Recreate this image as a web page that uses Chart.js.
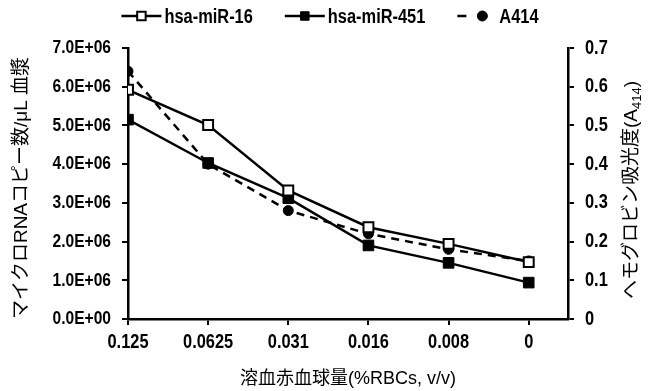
<!DOCTYPE html>
<html>
<head>
<meta charset="utf-8">
<script src="https://cdn.jsdelivr.net/npm/chart.js@4/dist/chart.umd.min.js"></script>
<style>
html,body{margin:0;padding:0;background:#fff;}
#wrap{width:651px;height:391px;position:relative;}
</style>
</head>
<body>
<div id="wrap"><canvas id="c" width="651" height="391"></canvas></div>
<script>
const categories = ["0.125", "0.0625", "0.031", "0.016", "0.008", "0"];
const mir16 = [5.92e6, 5.01e6, 3.32e6, 2.37e6, 1.94e6, 1.47e6];
const mir451 = [5.15e6, 4.03e6, 3.12e6, 1.90e6, 1.45e6, 0.94e6];
const a414 = [0.64, 0.40, 0.28, 0.22, 0.18, 0.15];
const leftTicks = [0, 1e6, 2e6, 3e6, 4e6, 5e6, 6e6, 7e6];
const leftTickLabels = ["0.0E+00", "1.0E+06", "2.0E+06", "3.0E+06", "4.0E+06", "5.0E+06", "6.0E+06", "7.0E+06"];
const rightTicks = [0, 0.1, 0.2, 0.3, 0.4, 0.5, 0.6, 0.7];
const rightTickLabels = ["0", "0.1", "0.2", "0.3", "0.4", "0.5", "0.6", "0.7"];
const seriesNames = ["hsa-miR-16", "hsa-miR-451", "A414"];
const xTitle = "溶血赤血球量(%RBCs, v/v)";
const yTitle = "マイクロRNAコピー数/μL 血漿";
const y2TitleMain = "ヘモグロビン吸光度(A";
const y2TitleSub = "414";
const y2TitleEnd = ")";

const FONT = "'Liberation Sans', Arial, sans-serif";
const TFONT = "'Liberation Sans', Arial, 'Noto Sans CJK JP', sans-serif";
const SQUEEZE = 0.82;

const toXY = arr => arr.map((v, i) => ({x: i, y: v}));

const datasets = [
  {label: seriesNames[0], data: toXY(mir16), yAxisID: 'y', borderColor: '#000', borderWidth: 2.5,
   pointStyle: 'rect', pointRadius: 7, pointBackgroundColor: '#fff', pointBorderColor: '#000', pointBorderWidth: 2},
  {label: seriesNames[1], data: toXY(mir451), yAxisID: 'y', borderColor: '#000', borderWidth: 2.5,
   pointStyle: 'rect', pointRadius: 7.5, pointBackgroundColor: '#000', pointBorderColor: '#000', pointBorderWidth: 1},
  {label: seriesNames[2], data: toXY(a414), yAxisID: 'y2', borderColor: '#000', borderWidth: 2.5, borderDash: [8, 6],
   pointStyle: 'circle', pointRadius: 5, pointBackgroundColor: '#000', pointBorderColor: '#000', pointBorderWidth: 1}
];

function drawMarker(ctx, ds, x, y) {
  ctx.save();
  ctx.setLineDash([]);
  ctx.fillStyle = ds.pointBackgroundColor;
  ctx.strokeStyle = ds.pointBorderColor;
  ctx.lineWidth = ds.pointBorderWidth;
  const r = ds.pointRadius;
  if (ds.pointStyle === 'rect') {
    const s = r * Math.SQRT1_2;
    ctx.beginPath(); ctx.rect(x - s, y - s, 2 * s, 2 * s); ctx.fill(); ctx.stroke();
  } else {
    ctx.beginPath(); ctx.arc(x, y, r, 0, Math.PI * 2); ctx.fill(); ctx.stroke();
  }
  ctx.restore();
}

// condensed text helper (reference uses a narrow bold face)
function narrowText(ctx, text, x, y, align, size) {
  ctx.save();
  ctx.font = "bold " + size + "px " + FONT;
  ctx.fillStyle = '#000';
  ctx.textBaseline = 'middle';
  ctx.textAlign = align;
  ctx.translate(x, y);
  ctx.scale(SQUEEZE, 1);
  ctx.fillText(text, 0, 0);
  ctx.restore();
}
function narrowWidth(ctx, text, size) {
  ctx.save();
  ctx.font = "bold " + size + "px " + FONT;
  const w = ctx.measureText(text).width * SQUEEZE;
  ctx.restore();
  return w;
}

const decor = {
  id: 'decor',
  afterDraw(chart) {
    const ctx = chart.ctx;
    const ca = chart.chartArea;
    const sx = chart.scales.x, sy = chart.scales.y, sy2 = chart.scales.y2;

    // tick labels, positioned by the library's scales
    categories.forEach((c, i) => narrowText(ctx, c, sx.getPixelForValue(i), ca.bottom + 23, 'center', 20));
    leftTicks.forEach((v, i) => narrowText(ctx, leftTickLabels[i], ca.left - 17, sy.getPixelForValue(v), 'right', 19));
    rightTicks.forEach((v, i) => narrowText(ctx, rightTickLabels[i], ca.right + 17, sy2.getPixelForValue(v), 'left', 20));

    // legend
    const LS = 20;
    const sampleW = [40, 40, 30];
    const gapAfterSample = [3, 3, 12];
    const itemGap = 32;
    let total = 0;
    const widths = datasets.map((ds, i) => {
      const w = sampleW[i] + gapAfterSample[i] + narrowWidth(ctx, ds.label, LS);
      total += w;
      return w;
    });
    total += itemGap * (datasets.length - 1);
    let x = 330 - total / 2;
    const ly = 16;
    datasets.forEach((ds, i) => {
      ctx.save();
      ctx.strokeStyle = '#000';
      ctx.lineWidth = 2.5;
      if (ds.borderDash) {
        ctx.beginPath(); ctx.moveTo(x, ly); ctx.lineTo(x + 9, ly); ctx.stroke();
        drawMarker(ctx, ds, x + 25, ly);
      } else {
        ctx.beginPath(); ctx.moveTo(x, ly); ctx.lineTo(x + sampleW[i], ly); ctx.stroke();
        drawMarker(ctx, Object.assign({}, ds, {pointRadius: 6}), x + sampleW[i] / 2, ly);
      }
      ctx.restore();
      narrowText(ctx, ds.label, x + sampleW[i] + gapAfterSample[i], ly + 1, 'left', LS);
      x += widths[i] + itemGap;
    });

    // x title
    ctx.save();
    ctx.font = "18px " + TFONT;
    ctx.fillStyle = '#000';
    ctx.textAlign = 'center';
    ctx.textBaseline = 'middle';
    ctx.fillText(xTitle, (ca.left + ca.right) / 2, 379);
    ctx.restore();

    // left y title
    ctx.save();
    ctx.font = "19px " + TFONT;
    ctx.fillStyle = '#000';
    ctx.translate(22, 188);
    ctx.rotate(-Math.PI / 2);
    ctx.textAlign = 'center';
    ctx.textBaseline = 'middle';
    ctx.fillText(yTitle, 0, 0);
    ctx.restore();

    // right y title with subscript
    ctx.save();
    ctx.fillStyle = '#000';
    ctx.translate(632, 190);
    ctx.rotate(-Math.PI / 2);
    ctx.textBaseline = 'middle';
    ctx.font = "19px " + TFONT;
    const w1 = ctx.measureText(y2TitleMain).width;
    const w3 = ctx.measureText(y2TitleEnd).width;
    ctx.font = "13px " + TFONT;
    const w2 = ctx.measureText(y2TitleSub).width;
    let tx = -(w1 + w2 + w3) / 2;
    ctx.font = "19px " + TFONT;
    ctx.textAlign = 'left';
    ctx.fillText(y2TitleMain, tx, 0);
    tx += w1;
    ctx.font = "13px " + TFONT;
    ctx.fillText(y2TitleSub, tx, 5);
    tx += w2;
    ctx.font = "19px " + TFONT;
    ctx.fillText(y2TitleEnd, tx, 0);
    ctx.restore();
  }
};

const axisGrid = {drawOnChartArea: false, drawTicks: true, color: '#000', lineWidth: 2, tickLength: 6, tickColor: '#000', tickWidth: 2};
const axisBorder = {color: '#000', width: 2.5};

new Chart(document.getElementById('c'), {
  type: 'line',
  data: {datasets},
  plugins: [decor],
  options: {
    responsive: false,
    animation: false,
    devicePixelRatio: 1,
    layout: {padding: {top: 48, left: 0, right: 0, bottom: 0}},
    plugins: {legend: {display: false}, tooltip: {enabled: false}},
    elements: {line: {tension: 0}},
    scales: {
      x: {
        type: 'linear', min: 0, max: 5.49,
        grid: axisGrid, border: axisBorder,
        afterBuildTicks: s => { s.ticks = categories.map((c, i) => ({value: i})); },
        afterFit: s => { s.height = 72; },
        ticks: {display: false, callback: v => categories[Math.round(v)]}
      },
      y: {
        position: 'left', min: 0, max: 7e6,
        grid: axisGrid, border: axisBorder,
        afterBuildTicks: s => { s.ticks = leftTicks.map(v => ({value: v})); },
        afterFit: s => { s.width = 128; },
        ticks: {display: false}
      },
      y2: {
        position: 'right', min: 0, max: 0.7,
        grid: axisGrid, border: axisBorder,
        afterBuildTicks: s => { s.ticks = rightTicks.map(v => ({value: v})); },
        afterFit: s => { s.width = 83; },
        ticks: {display: false}
      }
    }
  }
});
</script>
</body>
</html>
